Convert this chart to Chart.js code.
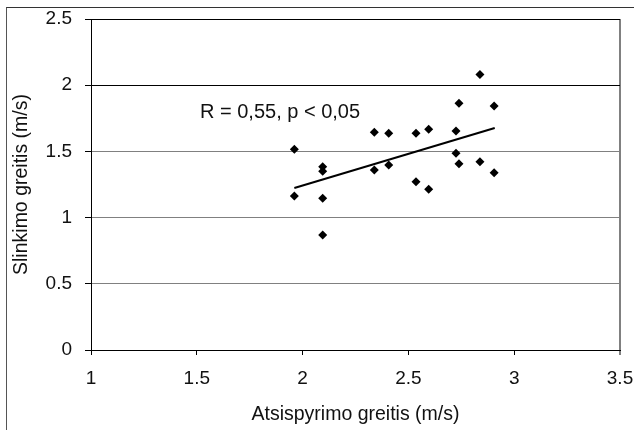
<!DOCTYPE html>
<html>
<head>
<meta charset="utf-8">
<script src="https://cdn.jsdelivr.net/npm/chart.js@4"></script>
<style>
  html, body { margin: 0; padding: 0; background: #fff; }
  #wrap { position: relative; width: 634px; height: 430px; }
  #frame { position: absolute; left: 6px; top: 7px; right: 0; bottom: 0;
           border-left: 1px solid #555; border-top: 1px solid #333; pointer-events: none; }
  canvas { position: absolute; left: 0; top: 0; }
</style>
</head>
<body>
<div id="wrap">
  <canvas id="chart" width="634" height="430"></canvas>
  <div id="frame"></div>
</div>
<script>
// Data
const pushSpeed = [1.961, 1.961, 2.095, 2.095, 2.095, 2.095, 2.339, 2.339, 2.407, 2.407, 2.536,
                   2.536, 2.596, 2.596, 2.725, 2.725, 2.739, 2.739, 2.838, 2.838, 2.905, 2.905];
const slideSpeed = [1.516, 1.163, 1.385, 1.350, 1.146, 0.869, 1.644, 1.360, 1.637, 1.397, 1.637,
                    1.271, 1.667, 1.214, 1.654, 1.486, 1.863, 1.407, 2.080, 1.422, 1.843, 1.339];
const trendX = [1.961, 2.908];
const trendY = [1.224, 1.677];
const xTicks = [1, 1.5, 2, 2.5, 3, 3.5];
const yTicks = [0, 0.5, 1, 1.5, 2, 2.5];
const annotationText = 'R = 0,55, p < 0,05';

const FONT = '"Liberation Sans", Arial, sans-serif';

const points = pushSpeed.map((x, i) => ({ x: x, y: slideSpeed[i] }));
const trend = trendX.map((x, i) => ({ x: x, y: trendY[i] }));

const annotationPlugin = {
  id: 'rLabel',
  afterDatasetsDraw(chart) {
    const ctx = chart.ctx;
    ctx.save();
    ctx.font = '20px ' + FONT;
    ctx.fillStyle = '#111';
    ctx.textBaseline = 'middle';
    ctx.textAlign = 'left';
    ctx.fillText(annotationText, 200, 112);
    ctx.restore();
  }
};

new Chart(document.getElementById('chart').getContext('2d'), {
  type: 'scatter',
  data: {
    datasets: [
      {
        label: 'points',
        data: points,
        pointStyle: 'rectRot',
        pointRadius: 4.5,
        pointHoverRadius: 4.5,
        backgroundColor: '#000',
        borderColor: '#000',
        borderWidth: 0
      },
      {
        type: 'line',
        label: 'trend',
        data: trend,
        borderColor: '#000',
        borderWidth: 2,
        pointRadius: 0,
        fill: false
      }
    ]
  },
  options: {
    responsive: false,
    animation: false,
    events: [],
    layout: { padding: { left: 0, top: 19, right: 14, bottom: 0 } },
    plugins: { legend: { display: false }, tooltip: { enabled: false } },
    scales: {
      x: {
        type: 'linear',
        min: 1,
        max: 3.5,
        afterBuildTicks: axis => { axis.ticks = xTicks.map(v => ({ value: v })); },
        afterFit: axis => { axis.height = 80; axis.paddingLeft = 0; axis.paddingRight = 0; },
        border: { display: true, color: '#000', width: 1 },
        grid: {
          drawOnChartArea: true,
          drawTicks: true,
          tickLength: 5,
          color: c => (c.tick && c.tick.value === 3.5) ? '#808080' : 'rgba(0,0,0,0)',
          tickColor: c => (c.tick && c.tick.value === 3.5) ? '#808080' : '#000',
          lineWidth: c => (c.tick && c.tick.value === 3.5) ? 2 : 1
        },
        ticks: {
          color: '#111',
          font: { family: FONT, size: 19 },
          padding: 12,
          maxRotation: 0,
          callback: v => String(v)
        },
        title: {
          display: true,
          text: 'Atsispyrimo greitis (m/s)',
          color: '#111',
          font: { family: FONT, size: 19.5 },
          padding: { top: 0, bottom: 4 }
        }
      },
      y: {
        type: 'linear',
        min: 0,
        max: 2.5,
        afterBuildTicks: axis => { axis.ticks = yTicks.map(v => ({ value: v })); },
        afterFit: axis => { axis.width = 91; axis.paddingTop = 0; axis.paddingBottom = 0; },
        border: { display: true, color: '#000', width: 1 },
        grid: {
          drawTicks: true,
          tickLength: 6,
          color: c => (c.tick && c.tick.value >= 2) ? '#000' : '#808080',
          tickColor: '#000',
          lineWidth: 1
        },
        ticks: {
          color: '#111',
          font: { family: FONT, size: 19 },
          padding: 13,
          callback: v => String(v)
        },
        title: {
          display: true,
          text: 'Slinkimo greitis (m/s)',
          color: '#111',
          font: { family: FONT, size: 19.5 },
          padding: { top: 10, bottom: 0 }
        }
      }
    }
  },
  plugins: [annotationPlugin]
});
</script>
</body>
</html>
